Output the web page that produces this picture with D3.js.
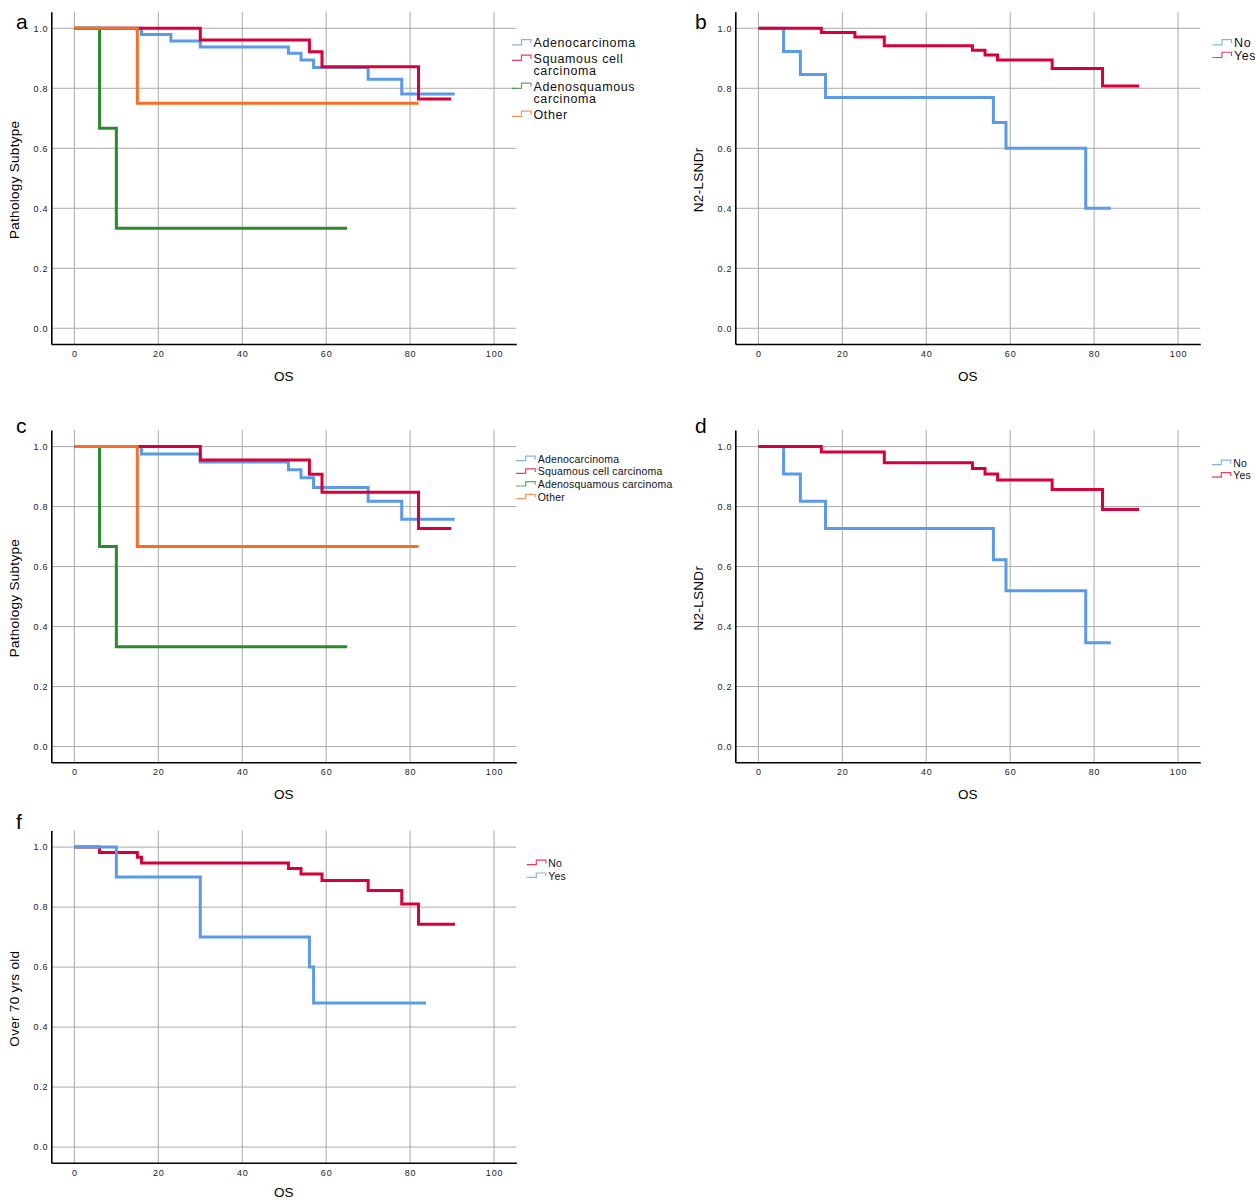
<!DOCTYPE html>
<html>
<head>
<meta charset="utf-8">
<script src="https://cdn.jsdelivr.net/npm/d3@7"></script>
<style>
  body { margin: 0; background: #fff; }
  svg { display: block; font-family: "Liberation Sans", Arial, sans-serif; }
</style>
</head>
<body>
<div id="chart"></div>
<script>
// ---- data ----
const xTicks = [0, 20, 40, 60, 80, 100];
const yTicks = [0, 0.2, 0.4, 0.6, 0.8, 1.0];

const pathologyLabels = ["Adenocarcinoma", "Squamous cell carcinoma", "Adenosquamous carcinoma", "Other"];
const yesNoLabels = ["No", "Yes"];

// panel a - pathology subtype
const aAdenoT = [0, 16, 23, 30, 51, 54, 57, 70, 78, 90.6];
const aAdenoS = [1, 0.979, 0.958, 0.938, 0.917, 0.894, 0.869, 0.830, 0.781, 0.781];
const aSquamT = [0, 30, 56, 59, 82, 89.8];
const aSquamS = [1, 0.961, 0.922, 0.872, 0.764, 0.764];
const aAdsqT = [0, 6, 10, 65];
const aAdsqS = [1, 0.667, 0.333, 0.333];
const aOtherT = [0, 15, 82];
const aOtherS = [1, 0.75, 0.75];

// panel b - N2-LSNDr
const bNoT = [0, 6, 10, 16, 56, 59, 78, 84];
const bNoS = [1, 0.923, 0.846, 0.769, 0.686, 0.600, 0.400, 0.400];
const bYesT = [0, 15, 23, 30, 51, 54, 57, 70, 82, 90.7];
const bYesS = [1, 0.986, 0.971, 0.942, 0.927, 0.911, 0.894, 0.866, 0.808, 0.808];

// panel c - pathology subtype
const cAdenoT = [0, 16, 30, 51, 54, 57, 70, 78, 90.6];
const cAdenoS = [1, 0.975, 0.949, 0.923, 0.896, 0.864, 0.818, 0.758, 0.758];
const cSquamT = [0, 30, 56, 59, 82, 89.8];
const cSquamS = [1, 0.955, 0.908, 0.848, 0.727, 0.727];
const cAdsqT = [0, 6, 10, 65];
const cAdsqS = [1, 0.667, 0.333, 0.333];
const cOtherT = [0, 15, 82];
const cOtherS = [1, 0.667, 0.667];

// panel d - N2-LSNDr
const dNoT = [0, 6, 10, 16, 56, 59, 78, 84];
const dNoS = [1, 0.909, 0.818, 0.727, 0.623, 0.519, 0.346, 0.346];
const dYesT = [0, 15, 30, 51, 54, 57, 70, 82, 90.7];
const dYesS = [1, 0.982, 0.946, 0.927, 0.909, 0.889, 0.857, 0.790, 0.790];

// panel f - over 70 yrs old
const fNoT = [0, 6, 15, 16, 51, 54, 59, 70, 78, 82, 90.7];
const fNoS = [1, 0.982, 0.966, 0.947, 0.929, 0.910, 0.889, 0.855, 0.810, 0.743, 0.743];
const fYesT = [0, 10, 30, 56, 57, 83.8];
const fYesS = [1, 0.9, 0.7, 0.6, 0.48, 0.48];

// ---- look ----
const BLUE = "#5b9ae6", RED = "#d6003a", GREEN = "#2c8a2c", ORANGE = "#f47029";
const gridColor = "#aaaaaa";
const W = 465, H = 332.3;
const xDomain = [-5.5, 105.3], yDomain = [-0.0525, 1.0553];

const svg = d3.select("#chart").append("svg")
    .attr("width", 1255)
    .attr("height", 1200);

function wrap(label, maxLen) {
    const lines = [];
    let cur = "";
    label.split(" ").forEach(w => {
        if (cur && (cur + " " + w).length > maxLen) { lines.push(cur); cur = w; }
        else cur = cur ? cur + " " + w : w;
    });
    lines.push(cur);
    return lines;
}

function drawPanel(p) {
    const g = svg.append("g").attr("transform", `translate(${p.left},${p.top})`);
    const x = d3.scaleLinear().domain(xDomain).range([0, W]);
    const y = d3.scaleLinear().domain(yDomain).range([H, 0]);

    // grid
    g.append("g").selectAll("line").data(xTicks).join("line")
        .attr("x1", d => x(d)).attr("x2", d => x(d))
        .attr("y1", 0).attr("y2", H)
        .attr("stroke", gridColor).attr("stroke-width", 1);
    g.append("g").selectAll("line").data(yTicks).join("line")
        .attr("x1", 0).attr("x2", W)
        .attr("y1", d => y(d)).attr("y2", d => y(d))
        .attr("stroke", gridColor).attr("stroke-width", 1);

    // axes
    const yAxis = g.append("g")
        .call(d3.axisLeft(y).tickValues(yTicks).tickSize(0).tickPadding(3).tickFormat(d3.format(".1f")));
    const xAxis = g.append("g").attr("transform", `translate(0,${H})`)
        .call(d3.axisBottom(x).tickValues(xTicks).tickSize(0).tickPadding(6.6));
    [yAxis, xAxis].forEach(a => {
        a.select(".domain").attr("stroke", "#000").attr("stroke-width", 1.6);
        a.selectAll("text")
            .attr("fill", "#222")
            .style("font-size", "9px")
            .style("letter-spacing", "0.8px")
            .style("font-family", '"Liberation Sans", Arial, sans-serif');
    });

    // titles
    g.append("text")
        .attr("x", W / 2).attr("y", H + (p.osGap || 37))
        .attr("text-anchor", "middle")
        .style("font-size", "13.5px")
        .text("OS");
    g.append("text")
        .attr("transform", `translate(-32,${H / 2 + 2}) rotate(-90)`)
        .attr("text-anchor", "middle")
        .style("font-size", "13.5px")
        .style("letter-spacing", "0.3px")
        .text(p.yTitle);
    svg.append("text")
        .attr("x", p.letterX).attr("y", p.letterY)
        .style("font-size", "21px")
        .text(p.letter);

    // survival curves
    const line = d3.line()
        .x(d => x(d[0]))
        .y(d => y(d[1]))
        .curve(d3.curveStepAfter);
    g.append("g").selectAll("path").data(p.series).join("path")
        .attr("d", d => line(d3.zip(d.t, d.s)))
        .attr("fill", "none")
        .attr("stroke", d => d.color)
        .attr("stroke-width", 3);

    // legend
    const lg = p.legend;
    let b = lg.y;
    p.series.forEach((s, i) => {
        const lines = lg.wrap ? wrap(s.label, lg.wrap) : [s.label];
        const lo = b - 0.2 * lg.size, hi = b - 0.62 * lg.size;
        svg.append("path")
            .attr("d", `M${lg.x - 21.5},${lo}H${lg.x - 12}V${hi}H${lg.x - 2.5}V${(lo + hi) / 2 + 1}`)
            .attr("fill", "none")
            .attr("stroke", s.color)
            .attr("stroke-opacity", 0.75)
            .attr("stroke-width", 1.2);
        svg.append("text")
            .attr("x", lg.x).attr("y", b)
            .style("font-size", lg.size + "px")
            .style("letter-spacing", lg.ls + "px")
            .attr("fill", "#111")
            .selectAll("tspan").data(lines).join("tspan")
            .attr("x", lg.x)
            .attr("dy", (d, j) => j ? lg.lh : 0)
            .text(d => d);
        b += lines.length * lg.lh + lg.gap;
    });
}

const colsPath = [BLUE, RED, GREEN, ORANGE];

drawPanel({
    left: 51.3, top: 11.7, letter: "a", letterX: 16, letterY: 29, yTitle: "Pathology Subtype",
    series: [[aAdenoT, aAdenoS], [aSquamT, aSquamS], [aAdsqT, aAdsqS], [aOtherT, aOtherS]]
        .map((d, i) => ({ t: d[0], s: d[1], color: colsPath[i], label: pathologyLabels[i] })),
    legend: { x: 533.5, y: 47.3, size: 12.5, ls: 0.6, lh: 12.4, gap: 3.2, wrap: 14 }
});

drawPanel({
    left: 735.3, top: 11.7, letter: "b", letterX: 695, letterY: 29, yTitle: "N2-LSNDr",
    series: [
        { t: bNoT, s: bNoS, color: BLUE, label: yesNoLabels[0] },
        { t: bYesT, s: bYesS, color: RED, label: yesNoLabels[1] }
    ],
    legend: { x: 1234, y: 47.3, size: 12.5, ls: 0.6, lh: 12.7, gap: 0 }
});

drawPanel({
    left: 51.3, top: 430, letter: "c", letterX: 16, letterY: 433, yTitle: "Pathology Subtype",
    series: [[cAdenoT, cAdenoS], [cSquamT, cSquamS], [cAdsqT, cAdsqS], [cOtherT, cOtherS]]
        .map((d, i) => ({ t: d[0], s: d[1], color: colsPath[i], label: pathologyLabels[i] })),
    legend: { x: 537.7, y: 462.7, size: 10.5, ls: 0.2, lh: 12.7, gap: 0 }
});

drawPanel({
    left: 735.3, top: 430, letter: "d", letterX: 695, letterY: 433, yTitle: "N2-LSNDr",
    series: [
        { t: dNoT, s: dNoS, color: BLUE, label: yesNoLabels[0] },
        { t: dYesT, s: dYesS, color: RED, label: yesNoLabels[1] }
    ],
    legend: { x: 1233.3, y: 466.7, size: 10.5, ls: 0.2, lh: 12.5, gap: 0 }
});

// bottom panel sits right at the page edge, so its OS title is lifted a little
drawPanel({
    left: 51.3, top: 830.5, letter: "f", letterX: 16, letterY: 829, yTitle: "Over 70 yrs old",
    osGap: 34,
    series: [
        { t: fNoT, s: fNoS, color: RED, label: yesNoLabels[0] },
        { t: fYesT, s: fYesS, color: BLUE, label: yesNoLabels[1] }
    ],
    legend: { x: 548.3, y: 866.7, size: 10.5, ls: 0.2, lh: 12.8, gap: 0 }
});
</script>
</body>
</html>
